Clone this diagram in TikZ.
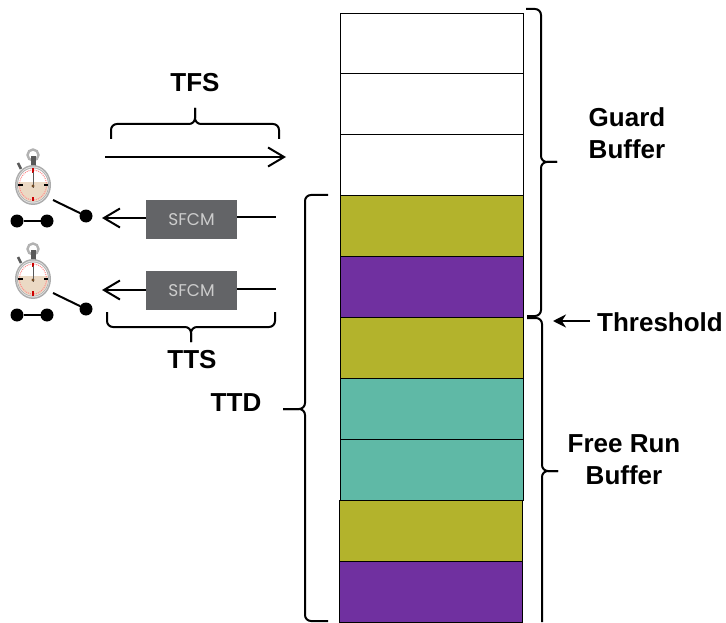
\documentclass[tikz,border=0pt]{standalone}
\usepackage{fontspec}
\setmainfont{Liberation Sans}
\newfontfamily\boxfont{Poppins}
\usetikzlibrary{arrows.meta,positioning}

\definecolor{olivecell}{HTML}{B3B32C}
\definecolor{purplecell}{HTML}{7030A0}
\definecolor{tealcell}{HTML}{5FB9A6}
\definecolor{sfcmgray}{HTML}{636467}
\definecolor{dialtan}{HTML}{EBD9C4}

\begin{document}
\begin{tikzpicture}[
    x=1pt, y=-1pt,
    node distance=0pt,
    cell/.style={draw, minimum width=183pt, minimum height=60.9pt, outer sep=0pt, inner sep=0pt, line width=0.9pt},
    sfcm/.style={fill=sfcmgray, text=black!20, minimum width=91pt, minimum height=39pt, outer sep=0pt, inner sep=0pt, font=\boxfont\fontsize{17}{20}\selectfont},
    lbl/.style={font=\bfseries\fontsize{26}{32}\selectfont, align=center, inner sep=0pt},
    flow/.style={-{Straight Barb[length=16pt,width=19pt,line width=2pt]}, line width=2pt},
    plain/.style={line width=2pt},
    bracket/.style={line width=2pt, rounded corners=6pt},
    dot/.style={circle, fill=black, minimum size=13pt, inner sep=0pt, outer sep=0pt},
    watch/.pic={
      % ring, stem and pusher
      \draw[gray!60, line width=2.4pt] (0,-30) circle (5.5pt);
      \fill[black!65] (-2.5,-29) rectangle (2.5,-19);
      \draw[gray!70!black, line width=2.5pt] (-12,-16) -- (-15,-22);
      % case and dial
      \fill[gray!65] (0,0) ellipse (18pt and 20pt);
      \fill[gray!20] (0,0) ellipse (16.5pt and 18.5pt);
      \fill[gray!60] (0,0) ellipse (16pt and 17.5pt);
      \fill[white] (0,0) ellipse (15pt and 16.5pt);
      \begin{scope}
        \clip (0,0) ellipse (15pt and 16.5pt);
        \fill[dialtan] (-16,-3) rectangle (16,17);
      \end{scope}
      \draw[red!45, densely dotted, line width=1pt] (0,0) ellipse (13.5pt and 15pt);
      \fill[red!80!black] (-0.7,-16.5) rectangle (0.7,-12);
      \fill[red!80!black] (-0.7,12) rectangle (0.7,16.5);
      \fill[black] (-15,-0.7) rectangle (-10.5,0.7);
      \fill[black] (10.5,-0.7) rectangle (15,0.7);
      \draw[gray!70!black, line width=0.9pt] (0,-13) -- (0,3);
      \fill[brown!60!black] (0,1) circle (1.6pt);
    }
  ]
  \useasboundingbox (0,0) rectangle (726,623);

  % Buffer column
  \node[cell, anchor=north west] (g1) at (340,13) {};
  \node[cell, below=of g1] (g2) {};
  \node[cell, below=of g2] (g3) {};
  \node[cell, below=of g3, fill=olivecell] (c1) {};
  \node[cell, below=of c1, fill=purplecell] (c2) {};
  \node[cell, below=of c2, fill=olivecell] (c3) {};
  \node[cell, below=of c3, fill=tealcell] (c4) {};
  \node[cell, below=of c4, fill=tealcell] (c5) {};
  \node[cell, below=of c5, fill=olivecell, xshift=-0.7pt] (c6) {};
  \node[cell, below=of c6, fill=purplecell] (c7) {};

  % SFCM boxes
  \node[sfcm, anchor=north west] (s1) at (146,200) {SFCM};
  \node[sfcm, anchor=north west] (s2) at (146,271) {SFCM};

  % Labels
  \node[lbl] (tfs) at (195,83) {TFS};
  \node[lbl] (tts) at (192,360) {TTS};
  \node[lbl] (ttd) at (236,403) {TTD};
  \node[lbl] (guard) at (627,133) {Guard\\Buffer};
  \node[lbl] (thresh) at (660,322) {Threshold};
  \node[lbl] (free) at (624,460) {Free Run\\Buffer};

  % Watches and switches
  \pic at (33,185) {watch};
  \pic at (33,279) {watch};
  \node[dot] (a1) at (17,221) {};
  \node[dot] (b1) at (47,221) {};
  \node[dot] (p1) at (86,216) {};
  \node[dot] (a2) at (17,315) {};
  \node[dot] (b2) at (47,315) {};
  \node[dot] (p2) at (86,309) {};
  \coordinate (l1) at (53,200);
  \coordinate (l2) at (53,293);
  \draw[plain] (a1) -- (b1);
  \draw[plain] (a2) -- (b2);
  \draw[plain] (l1) -- (p1);
  \draw[plain] (l2) -- (p2);

  % Arrows
  \coordinate (tfsa) at (105,157);
  \coordinate (tfsb) at (286,157);
  \coordinate (h1) at (102,218);
  \coordinate (h2) at (102,290);
  \coordinate (e1) at (276,217);
  \coordinate (e2) at (276,289);
  \coordinate (thta) at (590,321);
  \coordinate (thtb) at (553,321);
  \draw[flow] (tfsa) -- (tfsb);
  \draw[flow] (s1.west |- h1) -- (h1);
  \draw[flow] (s2.west |- h2) -- (h2);
  \draw[plain] (s1.east |- e1) -- (e1);
  \draw[plain] (s2.east |- e2) -- (e2);
  \draw[-{Stealth[length=13pt,width=13pt]}, line width=2pt] (thta) -- (thtb);

  % Braces
  \coordinate (tfsl) at (111,139);
  \coordinate (tfsr) at (279,139);
  \coordinate (tfsm) at (195,124);
  \coordinate (tfst) at (195,108);
  \draw[bracket] (tfsl) |- (tfsm) -- (tfst);
  \draw[bracket] (tfsr) |- (tfsm) -- (tfst);

  \coordinate (ttsl) at (107,312);
  \coordinate (ttsr) at (275,312);
  \coordinate (ttsm) at (191,327);
  \coordinate (ttst) at (191,342);
  \draw[bracket] (ttsl) |- (ttsm) -- (ttst);
  \draw[bracket] (ttsr) |- (ttsm) -- (ttst);

  \coordinate (gt) at (526,9);
  \coordinate (gb) at (527,316);
  \coordinate (gm) at (541,162);
  \coordinate (gp) at (557,162);
  \draw[bracket] (gt) -| (gm) -- (gp);
  \draw[bracket] (gb) -| (gm) -- (gp);

  \coordinate (ft) at (527,318);
  \coordinate (fb) at (542,622);
  \coordinate (fm) at (542,471);
  \coordinate (fp) at (558,471);
  \draw[bracket] (ft) -| (fm) -- (fp);
  \draw[bracket] (fb) -- (fm) -- (fp);

  \coordinate (dt) at (328,195);
  \coordinate (db) at (328,621);
  \coordinate (dm) at (305,409);
  \coordinate (dp) at (283,409);
  \draw[bracket] (dt) -| (dm) -- (dp);
  \draw[bracket] (db) -| (dm) -- (dp);
\end{tikzpicture}
\end{document}
